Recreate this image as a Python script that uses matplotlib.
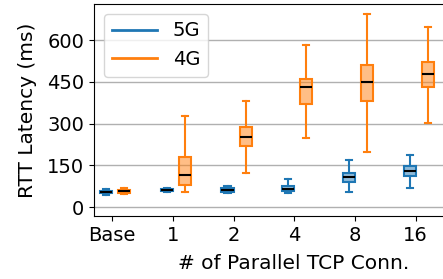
import matplotlib
matplotlib.use("Agg")
import matplotlib.pyplot as plt

categories = ["Base", "1", "2", "4", "8", "16"]
series = ["5G", "4G"]
colors = {"5G": "#1f77b4", "4G": "#ff7f0e"}

# box stats in ms
g5_whislo = [45, 53, 49, 52, 54, 70]
g5_q1 = [50, 57, 54, 58, 90, 113]
g5_med = [54, 61, 60, 65, 107, 130]
g5_q3 = [58, 64, 67, 77, 124, 146]
g5_whishi = [64, 70, 76, 100, 168, 186]

g4_whislo = [47, 53, 124, 248, 197, 301]
g4_q1 = [52, 81, 221, 372, 380, 430]
g4_med = [58, 114, 251, 430, 450, 478]
g4_q3 = [63, 181, 287, 461, 509, 520]
g4_whishi = [68, 328, 382, 583, 695, 648]

yticks = [0, 150, 300, 450, 600]

fig = plt.figure(figsize=(4.43, 2.79), dpi=100)
ax = fig.add_axes([94/443, 1-216/279, 352/443, 212/279])

def stats(lo, q1, med, q3, hi):
    return [dict(whislo=a, q1=b, med=c, q3=d, whishi=e, fliers=[])
            for a, b, c, d, e in zip(lo, q1, med, q3, hi)]

data = {
    "5G": stats(g5_whislo, g5_q1, g5_med, g5_q3, g5_whishi),
    "4G": stats(g4_whislo, g4_q1, g4_med, g4_q3, g4_whishi),
}
offsets = {"5G": -0.1, "4G": 0.2}
n = len(categories)
for s in series:
    c = colors[s]
    pos = [i + offsets[s] for i in range(n)]
    ax.bxp(data[s], positions=pos, widths=0.2, patch_artist=True,
           showfliers=False, manage_ticks=False,
           boxprops=dict(facecolor=matplotlib.colors.to_rgba(c, 0.5), edgecolor=c, linewidth=1.5),
           whiskerprops=dict(color=c, linewidth=1.5),
           capprops=dict(color=c, linewidth=1.5),
           medianprops=dict(color="black", linewidth=1.5))
    ax.plot([], [], color=c, linewidth=2, label=s)

ax.set_xticks(range(n))
ax.set_xticklabels(categories)
ax.set_yticks(yticks)
ax.set_xlim(-0.3, 5.5)
ax.set_ylim(-32, 730)
ax.yaxis.grid(True, color="#b0b0b0", linewidth=1)
ax.set_axisbelow(True)
ax.tick_params(labelsize=14)
ax.set_xlabel("# of Parallel TCP Conn.", fontsize=14.5, x=0.568, labelpad=7)
ax.set_ylabel("RTT Latency (ms)", fontsize=14.5, labelpad=7)
ax.legend(loc="upper left", fontsize=14, handlelength=2.35)

fig.savefig("out.png", dpi=100)
